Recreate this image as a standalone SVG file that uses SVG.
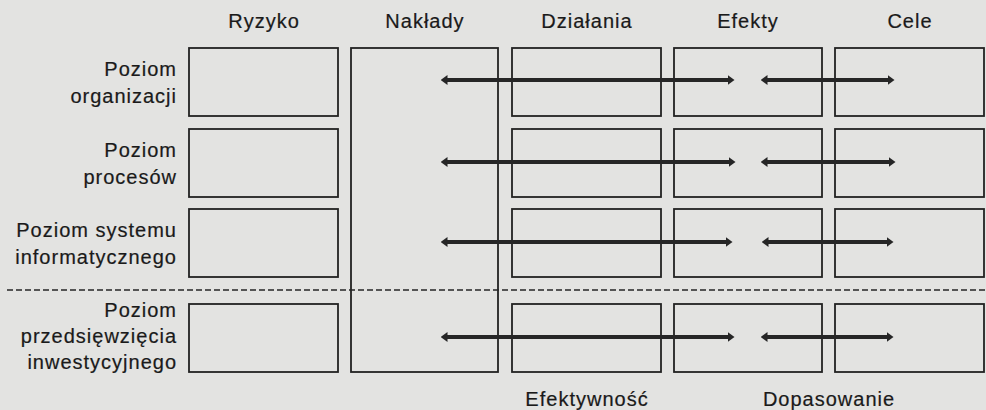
<svg xmlns="http://www.w3.org/2000/svg" width="986" height="410" viewBox="0 0 986 410">
  <defs>
    <style>
      .bg { fill: #e3e3e1; }
      .box { fill: none; stroke: #222222; stroke-width: 1.8; }
      .lbl { font-family: "Liberation Sans", Arial, sans-serif; font-size: 20px; letter-spacing: 1px; fill: #1a1a1a; stroke: #1a1a1a; stroke-width: 0.2px; }
      .head { text-anchor: middle; }
      .row { text-anchor: end; }
      .arrow { stroke: #262626; stroke-width: 4; fill: none; marker-start: url(#tip); marker-end: url(#tip); }
      .divider { stroke: #262626; stroke-width: 1.5; stroke-dasharray: 6 3; fill: none; }
    </style>
    <marker id="tip" viewBox="0 0 7 10" refX="0.5" refY="5" markerWidth="7" markerHeight="10" markerUnits="userSpaceOnUse" orient="auto-start-reverse">
      <path d="M0,0 L7,5 L0,10 z" fill="#262626"/>
    </marker>
  </defs>

  <rect class="bg" x="0" y="0" width="986" height="410"/>

  <!-- column headings -->
  <g id="headings">
    <text class="lbl head" x="264" y="28">Ryzyko</text>
    <text class="lbl head" x="425" y="28">Nakłady</text>
    <text class="lbl head" x="587" y="28">Działania</text>
    <text class="lbl head" x="748" y="28">Efekty</text>
    <text class="lbl head" x="910" y="28">Cele</text>
  </g>

  <!-- row headings -->
  <g id="level-organization">
    <text class="lbl row" x="177" y="76">Poziom</text>
    <text class="lbl row" x="177" y="103">organizacji</text>
  </g>
  <g id="level-processes">
    <text class="lbl row" x="177" y="157">Poziom</text>
    <text class="lbl row" x="177" y="184">procesów</text>
  </g>
  <g id="level-system">
    <text class="lbl row" x="177" y="237">Poziom systemu</text>
    <text class="lbl row" x="177" y="264">informatycznego</text>
  </g>
  <g id="level-project">
    <text class="lbl row" x="177" y="317">Poziom</text>
    <text class="lbl row" x="177" y="343">przedsięwzięcia</text>
    <text class="lbl row" x="177" y="369">inwestycyjnego</text>
  </g>

  <!-- Ryzyko column -->
  <g id="risk">
    <rect class="box" x="189" y="48" width="149" height="68"/>
    <rect class="box" x="189" y="129" width="149" height="68"/>
    <rect class="box" x="189" y="209" width="149" height="68"/>
    <rect class="box" x="189" y="304" width="149" height="68"/>
  </g>

  <!-- Nakłady: one box across all levels -->
  <g id="inputs">
    <rect class="box" x="351" y="48" width="147" height="324"/>
  </g>

  <!-- Działania column -->
  <g id="actions">
    <rect class="box" x="512" y="48" width="149" height="68"/>
    <rect class="box" x="512" y="129" width="149" height="68"/>
    <rect class="box" x="512" y="209" width="149" height="68"/>
    <rect class="box" x="512" y="304" width="149" height="68"/>
  </g>

  <!-- Efekty column -->
  <g id="effects">
    <rect class="box" x="674" y="48" width="148" height="68"/>
    <rect class="box" x="674" y="129" width="148" height="68"/>
    <rect class="box" x="674" y="209" width="148" height="68"/>
    <rect class="box" x="674" y="304" width="148" height="68"/>
  </g>

  <!-- Cele column -->
  <g id="goals">
    <rect class="box" x="835" y="48" width="149" height="68"/>
    <rect class="box" x="835" y="129" width="149" height="68"/>
    <rect class="box" x="835" y="209" width="149" height="68"/>
    <rect class="box" x="835" y="304" width="149" height="68"/>
  </g>

  <!-- separator between system levels and the project level -->
  <line class="divider" x1="7" y1="290" x2="986" y2="290"/>

  <!-- connectors -->
  <g id="connectors">
    <line class="arrow" x1="447" y1="80" x2="728" y2="80"/>
    <line class="arrow" x1="767" y1="80" x2="888" y2="80"/>
    <line class="arrow" x1="447" y1="162" x2="729" y2="162"/>
    <line class="arrow" x1="767" y1="162" x2="889" y2="162"/>
    <line class="arrow" x1="447" y1="242" x2="726" y2="242"/>
    <line class="arrow" x1="768" y1="242" x2="887" y2="242"/>
    <line class="arrow" x1="447" y1="337" x2="728" y2="337"/>
    <line class="arrow" x1="767" y1="337" x2="887" y2="337"/>
  </g>

  <!-- bottom captions -->
  <g id="captions">
    <text class="lbl head" x="587" y="406">Efektywność</text>
    <text class="lbl head" x="829" y="406">Dopasowanie</text>
  </g>
</svg>
